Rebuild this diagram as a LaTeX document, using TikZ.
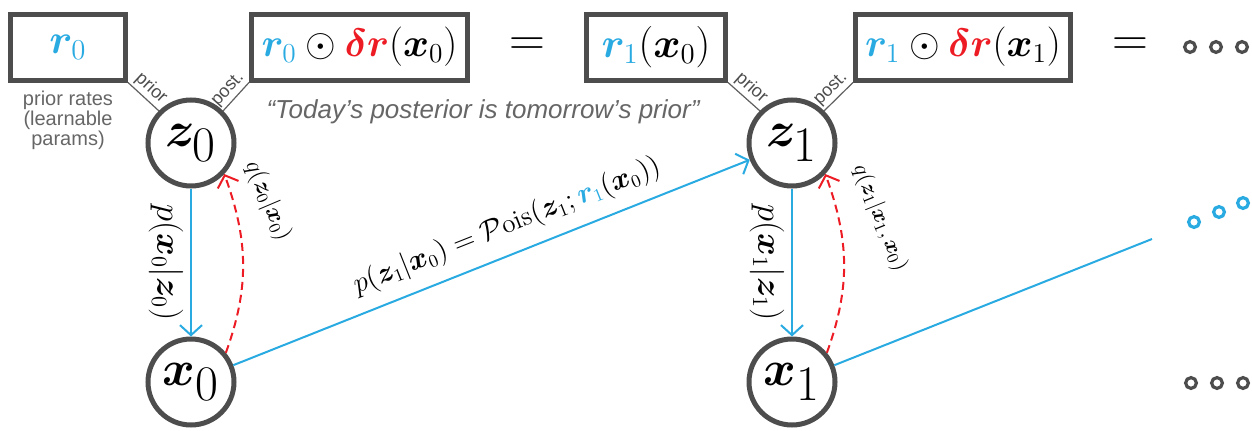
\documentclass[tikz,border=0pt]{standalone}
\usepackage{amsmath, amsfonts, bm}
\usepackage{fontspec}
\setsansfont{Liberation Sans}
\usepackage{tikz}
\usetikzlibrary{positioning, arrows.meta, calc, shapes}

\definecolor{rateblue}{HTML}{29ABE2}
\definecolor{deltared}{HTML}{ED1C24}
\definecolor{framegray}{HTML}{4D4D4D}
\definecolor{notegray}{HTML}{666666}

\begin{document}
\begin{tikzpicture}[x=0.5pt, y=0.5pt]
\tikzset{
    every node/.style={align=center},
    ratebox/.style={draw=framegray, line width=2.5pt, minimum height=33pt, inner sep=0pt, font=\fontsize{22}{26}\selectfont},
    varnode/.style={circle, draw=framegray, line width=2.5pt, minimum size=43pt, inner sep=0pt, font=\fontsize{33}{38}\selectfont},
    tagline/.style={framegray!90, line width=0.6pt},
    taglabel/.style={font=\sffamily\fontsize{9}{10}\selectfont, text=framegray, inner sep=1.2pt},
    pathlabel/.style={text=black},
    genarrow/.style={rateblue, line width=1pt, -{Straight Barb[length=5pt, width=11pt]}},
    infarrow/.style={deltared, line width=1pt, dash pattern=on 4pt off 2.5pt, -{Straight Barb[length=5pt, width=11pt]}},
    moredots/.style={circle, draw=framegray, line width=1.6pt, minimum size=5.4pt, inner sep=0pt}
}
\useasboundingbox (0,0) rectangle (1252,430);

% rates
\node[ratebox, minimum width=57.5pt] (r0) at (68,383) {${\color{rateblue}\bm{r}_0}$};
\node[ratebox, minimum width=108pt] (post0) at (359.5,383) {\scalebox{0.95}{${\color{rateblue}\bm{r}_0} \odot {\color{deltared}\bm{\delta r}}(\bm{x}_0)$}};
\node[font=\fontsize{27}{30}\selectfont] (eq0) at (527,383) {$=$};
\node[ratebox, minimum width=69.5pt] (r1) at (656,383) {${\color{rateblue}\bm{r}_1}(\bm{x}_0)$};
\node[ratebox, minimum width=107.5pt] (post1) at (963,383) {\scalebox{0.95}{${\color{rateblue}\bm{r}_1} \odot {\color{deltared}\bm{\delta r}}(\bm{x}_1)$}};
\node[font=\fontsize{27}{30}\selectfont] (eq1) at (1130,383) {$=$};

\node[font=\sffamily\fontsize{10}{10}\selectfont, text=notegray] (priornote) at (68,310) {prior rates\\(learnable\\params)};
\node[font=\sffamily\itshape\fontsize{13}{15}\selectfont, text=notegray] (motto) at (483,318) {“Today’s posterior is tomorrow’s prior”};

% latents and observations
\node[varnode] (z0) at (191,287) {$\bm{z}_0$};
\node[varnode] (x0) at (191,48) {$\bm{x}_0$};
\node[varnode] (z1) at (792,287) {$\bm{z}_1$};
\node[varnode] (x1) at (792,48) {$\bm{x}_1$};

\draw[tagline] (r0.south east) -- (z0.north west) node[midway, sloped, above, taglabel] {prior};
\draw[tagline] (z0.north east) -- (post0.south west) node[midway, sloped, above, taglabel] {post.};
\draw[tagline] (r1.south east) -- (z1.north west) node[midway, sloped, above, taglabel] {prior};
\draw[tagline] (z1.north east) -- (post1.south west) node[midway, sloped, above, taglabel] {post.};

\draw[genarrow] (z0) -- (x0) node[midway, sloped, below, pathlabel, font=\fontsize{16}{19}\selectfont] {$p(\bm{x}_0|\bm{z}_0)$};
\draw[genarrow] (z1) -- (x1) node[midway, sloped, below, pathlabel, font=\fontsize{16}{19}\selectfont] {$p(\bm{x}_1|\bm{z}_1)$};
\draw[infarrow] (x0.40) to[out=70, in=-70] (z0.-43);
\draw[infarrow] (x1.40) to[out=70, in=-70] (z1.-43);
\node[rotate=-67, font=\fontsize{11.5}{13}\selectfont] (q0) at (268,229) {$q(\bm{z}_0|\bm{x}_0)$};
\node[rotate=-68, font=\fontsize{11}{13}\selectfont] (q1) at (880,212) {$q(\bm{z}_1|\bm{x}_1,\bm{x}_0)$};

\draw[genarrow] (x0) -- (z1) node[pos=0.55, sloped, above=3pt, pathlabel, font=\fontsize{13.5}{16}\selectfont] {$p(\bm{z}_1|\bm{x}_0) = \mathcal{P}\mathrm{ois}(\bm{z}_1; {\color{rateblue}\bm{r}_1}(\bm{x}_0))$};
\coordinate (tail) at (1152,191);
\draw[rateblue, line width=1pt] (x1) -- (tail);

% and so on
\foreach \i/\x in {1/1190, 2/1216, 3/1242}
    \node[moredots] (topdot\i) at (\x,383) {};
\foreach \i/\x in {1/1191, 2/1217, 3/1243}
    \node[moredots] (lowdot\i) at (\x,47) {};
\foreach \i/\x/\y in {1/1194/208, 2/1219/218, 3/1243/227}
    \node[moredots, draw=rateblue] (middot\i) at (\x,\y) {};
\end{tikzpicture}
\end{document}
